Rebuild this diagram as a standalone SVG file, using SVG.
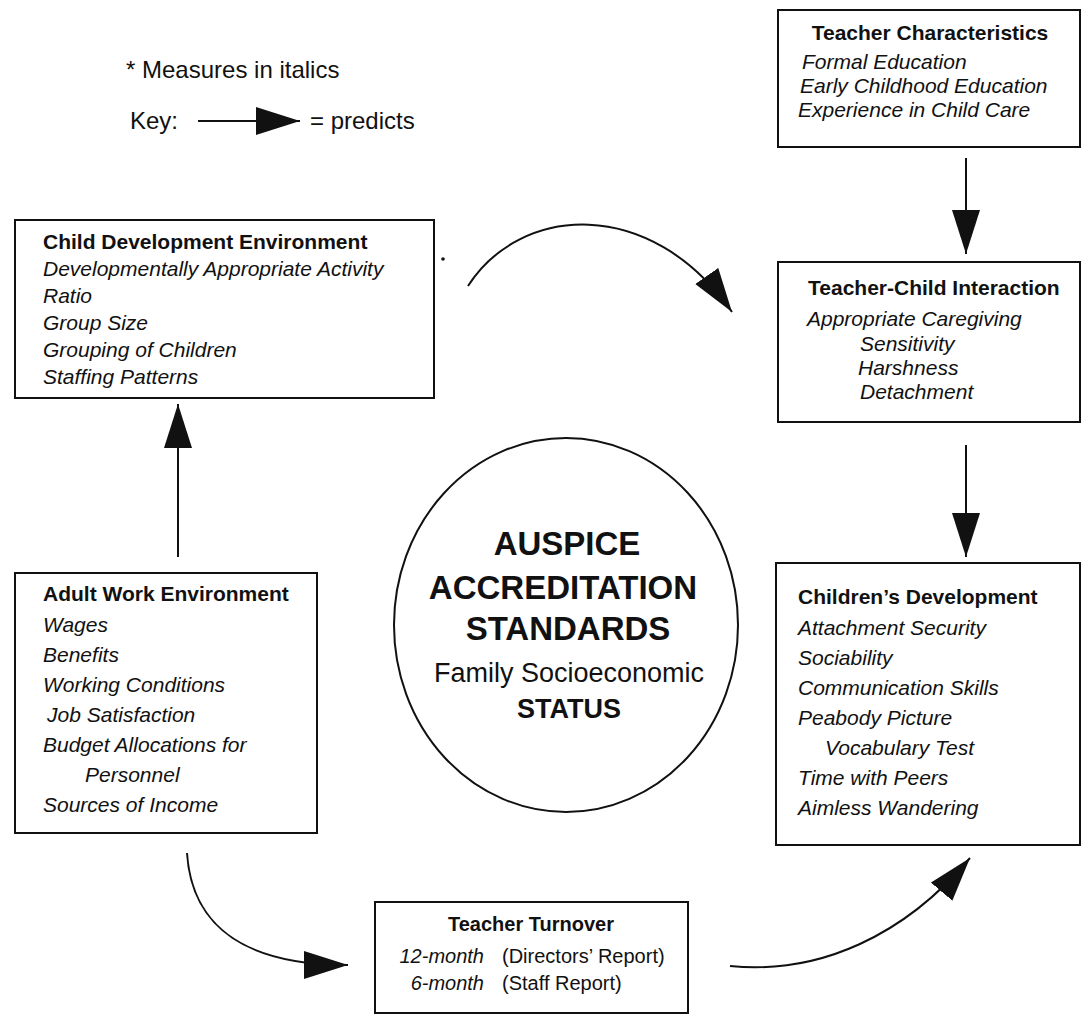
<svg xmlns="http://www.w3.org/2000/svg" width="1086" height="1016" viewBox="0 0 1086 1016">
<style>
.box{fill:none;stroke:#111;stroke-width:2}
.t{font-family:"Liberation Sans",Arial,sans-serif;fill:#111}
.h{font-weight:bold;font-size:21px}
.i{font-style:italic;font-size:21px}
.conn{fill:none;stroke:#111;stroke-width:2}
</style>
<defs>
<marker id="ah" markerUnits="userSpaceOnUse" markerWidth="46" markerHeight="30" viewBox="0 0 46 30" refX="44" refY="15" orient="auto">
<path d="M0,1 L44,15 L0,29 Z" fill="#111"/>
</marker>
</defs>
<rect width="1086" height="1016" fill="#fff"/>

<g id="legend">
<text class="t" x="126" y="78" font-size="24">* Measures in italics</text>
<text class="t" x="130" y="129" font-size="24">Key:</text>
<line class="conn" x1="198" y1="121" x2="300" y2="121" marker-end="url(#ah)"/>
<text class="t" x="310" y="129" font-size="24">= predicts</text>
</g>

<g id="teacher-characteristics">
<rect class="box" x="778" y="10" width="302" height="137"/>
<text class="t h" x="930" y="40" text-anchor="middle">Teacher Characteristics</text>
<text class="t i" x="802" y="69">Formal Education</text>
<text class="t i" x="800" y="93">Early Childhood Education</text>
<text class="t i" x="798" y="117">Experience in Child Care</text>
</g>

<g id="child-development-environment">
<rect class="box" x="15" y="220" width="419" height="178"/>
<text class="t h" x="43" y="249">Child Development Environment</text>
<text class="t i" x="43" y="276">Developmentally Appropriate Activity</text>
<text class="t i" x="43" y="303">Ratio</text>
<text class="t i" x="43" y="330">Group Size</text>
<text class="t i" x="43" y="357">Grouping of Children</text>
<text class="t i" x="43" y="384">Staffing Patterns</text>
</g>

<g id="teacher-child-interaction">
<rect class="box" x="778" y="262" width="302" height="160"/>
<text class="t h" x="808" y="295">Teacher-Child Interaction</text>
<text class="t i" x="807" y="326">Appropriate Caregiving</text>
<text class="t i" x="860" y="351">Sensitivity</text>
<text class="t i" x="858" y="375">Harshness</text>
<text class="t i" x="860" y="399">Detachment</text>
</g>

<g id="adult-work-environment">
<rect class="box" x="15" y="573" width="302" height="260"/>
<text class="t h" x="43" y="601">Adult Work Environment</text>
<text class="t i" x="43" y="632">Wages</text>
<text class="t i" x="43" y="662">Benefits</text>
<text class="t i" x="43" y="692">Working Conditions</text>
<text class="t i" x="47" y="722">Job Satisfaction</text>
<text class="t i" x="43" y="752">Budget Allocations for</text>
<text class="t i" x="85" y="782">Personnel</text>
<text class="t i" x="43" y="812">Sources of Income</text>
</g>

<g id="auspice">
<ellipse class="box" cx="566" cy="625" rx="172" ry="187"/>
<text class="t" x="567" y="555" font-size="33" font-weight="bold" text-anchor="middle">AUSPICE</text>
<text class="t" x="563" y="599" font-size="33" font-weight="bold" text-anchor="middle">ACCREDITATION</text>
<text class="t" x="568" y="640" font-size="33" font-weight="bold" text-anchor="middle">STANDARDS</text>
<text class="t" x="569" y="682" font-size="27" text-anchor="middle">Family Socioeconomic</text>
<text class="t" x="569" y="718" font-size="27" font-weight="bold" text-anchor="middle">STATUS</text>
</g>

<g id="childrens-development">
<rect class="box" x="776" y="563" width="304" height="282"/>
<text class="t h" x="798" y="604">Children’s Development</text>
<text class="t i" x="798" y="635">Attachment Security</text>
<text class="t i" x="798" y="665">Sociability</text>
<text class="t i" x="798" y="695">Communication Skills</text>
<text class="t i" x="798" y="725">Peabody Picture</text>
<text class="t i" x="825" y="755">Vocabulary Test</text>
<text class="t i" x="798" y="785">Time with Peers</text>
<text class="t i" x="798" y="815">Aimless Wandering</text>
</g>

<g id="teacher-turnover">
<rect class="box" x="375" y="902" width="313" height="111"/>
<text class="t" x="531" y="931" font-size="20" font-weight="bold" text-anchor="middle">Teacher Turnover</text>
<text class="t" x="484" y="963" font-size="20" font-style="italic" text-anchor="end">12-month</text>
<text class="t" x="502" y="963" font-size="20">(Directors’ Report)</text>
<text class="t" x="484" y="990" font-size="20" font-style="italic" text-anchor="end">6-month</text>
<text class="t" x="502" y="990" font-size="20">(Staff Report)</text>
</g>

<g id="connectors">
<line class="conn" x1="966" y1="158" x2="966" y2="254" marker-end="url(#ah)"/>
<line class="conn" x1="966" y1="445" x2="966" y2="557" marker-end="url(#ah)"/>
<line class="conn" x1="178" y1="557" x2="178" y2="404" marker-end="url(#ah)"/>
<path class="conn" d="M468,286 C520,205 650,195 732,312" marker-end="url(#ah)"/>
<path class="conn" d="M187,853 C192,930 250,965 348,965" marker-end="url(#ah)"/>
<path class="conn" d="M730,966 C820,975 905,935 970,858" marker-end="url(#ah)"/>
<circle cx="443" cy="259" r="1.8" fill="#111"/>
</g>
</svg>
